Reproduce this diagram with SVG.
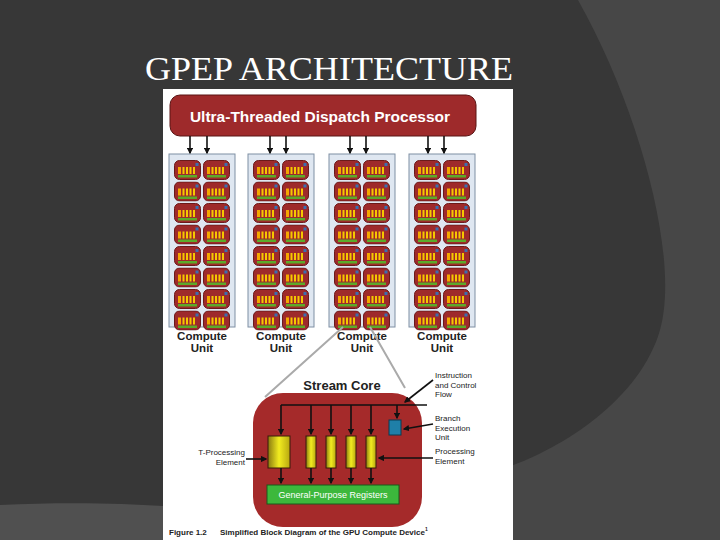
<svg xmlns="http://www.w3.org/2000/svg" width="720" height="540" viewBox="0 0 720 540">
<defs>
<style>
.cu{fill:#dfe7f1;stroke:#7f8fa3;stroke-width:1}
.lbl{font-family:"Liberation Sans",Arial,sans-serif;font-weight:bold;font-size:11.5px;fill:#222;text-anchor:middle}
.sm{font-family:"Liberation Sans",Arial,sans-serif;font-size:8px;fill:#222}
.ar{stroke:#111;stroke-width:1.6;fill:none;marker-end:url(#ah)}
</style>
<marker id="ah" viewBox="0 0 10 10" refX="8" refY="5" markerWidth="4" markerHeight="4" orient="auto"><path d="M0,0L10,5L0,10z" fill="#111"/></marker>
<linearGradient id="pe" x1="0" x2="1"><stop offset="0" stop-color="#8a7a10"/><stop offset="0.5" stop-color="#f2ec20"/><stop offset="1" stop-color="#b8a810"/></linearGradient>
<symbol id="cell" viewBox="0 0 27 20" width="27" height="20">
<rect x="0.5" y="0.5" width="26" height="19" rx="5" fill="#9e2a2b" stroke="#6a1a1a"/>
<rect x="4" y="7" width="3" height="7" fill="#f5a800"/>
<rect x="8.5" y="7" width="2" height="7" fill="#f5c800"/>
<rect x="12" y="7" width="2" height="7" fill="#f5c800"/>
<rect x="15.5" y="7" width="2" height="7" fill="#f5c800"/>
<rect x="19" y="7" width="2" height="7" fill="#f5c800"/>
<rect x="21.5" y="3" width="3" height="3" fill="#3a6fb0"/>
<rect x="4" y="15" width="19" height="2.5" fill="#5caa2a"/>
</symbol>
<g id="cucol">
<rect class="cu" x="0" y="0" width="66" height="173"/>
<use href="#cell" x="5" y="6"/><use href="#cell" x="34" y="6"/>
<use href="#cell" x="5" y="27.5"/><use href="#cell" x="34" y="27.5"/>
<use href="#cell" x="5" y="49"/><use href="#cell" x="34" y="49"/>
<use href="#cell" x="5" y="70.5"/><use href="#cell" x="34" y="70.5"/>
<use href="#cell" x="5" y="92"/><use href="#cell" x="34" y="92"/>
<use href="#cell" x="5" y="113.5"/><use href="#cell" x="34" y="113.5"/>
<use href="#cell" x="5" y="135"/><use href="#cell" x="34" y="135"/>
<use href="#cell" x="5" y="156.5"/><use href="#cell" x="34" y="156.5"/>
</g>
</defs>
<rect width="720" height="540" fill="#373737"/>
<path d="M578,0 C640,110 680,260 660,330 C640,400 560,450 505,468 L505,540 L720,540 L720,0 Z" fill="#474747"/>
<path d="M0,505 C60,502 120,503 163,506 L163,540 L0,540 Z" fill="#505050"/>
<text x="145" y="80" font-family="Liberation Serif,serif" font-size="33" fill="#fff" textLength="368" lengthAdjust="spacingAndGlyphs">GPEP ARCHITECTURE</text>
<rect x="163" y="89" width="350" height="451" fill="#fff"/>
<g id="dispatch">
<rect x="170" y="95" width="306" height="41" rx="10" fill="#9e2a2b" stroke="#5a1515"/>
<text x="320" y="122" font-family="Liberation Sans,Arial,sans-serif" font-weight="bold" font-size="15.5" fill="#fff" text-anchor="middle">Ultra-Threaded Dispatch Processor</text>
</g>
<g id="cu1"><use href="#cucol" x="169" y="154"/><text class="lbl" x="202" y="340">Compute</text><text class="lbl" x="202" y="352">Unit</text></g>
<g id="cu2"><use href="#cucol" x="248" y="154"/><text class="lbl" x="281" y="340">Compute</text><text class="lbl" x="281" y="352">Unit</text></g>
<g id="cu3"><use href="#cucol" x="329" y="154"/><text class="lbl" x="362" y="340">Compute</text><text class="lbl" x="362" y="352">Unit</text></g>
<g id="cu4"><use href="#cucol" x="409" y="154"/><text class="lbl" x="442" y="340">Compute</text><text class="lbl" x="442" y="352">Unit</text></g>
<g id="streamcore">
<text x="342" y="390" font-family="Liberation Sans,Arial,sans-serif" font-weight="bold" font-size="13" fill="#222" text-anchor="middle">Stream Core</text>
<rect x="253" y="393" width="169" height="134" rx="30" fill="#a52a2a"/>
<rect x="268" y="436" width="22" height="32" fill="url(#pe)" stroke="#3a1a0a"/>
<rect x="306" y="436" width="10" height="32" fill="url(#pe)" stroke="#3a1a0a"/>
<rect x="326" y="436" width="10" height="32" fill="url(#pe)" stroke="#3a1a0a"/>
<rect x="346" y="436" width="10" height="32" fill="url(#pe)" stroke="#3a1a0a"/>
<rect x="366" y="436" width="10" height="32" fill="url(#pe)" stroke="#3a1a0a"/>
<rect x="389" y="420" width="12" height="15" fill="#1f7fa8" stroke="#0a3a50"/>
<rect x="267" y="485" width="132" height="19" fill="#3cb83c" stroke="#1a5a1a"/>
<text x="333" y="498" font-family="Liberation Sans,Arial,sans-serif" font-size="9" fill="#fff" text-anchor="middle">General-Purpose Registers</text>
</g>
<g id="connectors">
<path class="ar" d="M190,136V153"/><path class="ar" d="M207,136V153"/><path class="ar" d="M270,136V153"/><path class="ar" d="M286,136V153"/>
<path class="ar" d="M350,136V153"/><path class="ar" d="M366,136V153"/><path class="ar" d="M428,136V153"/><path class="ar" d="M444,136V153"/>
<path d="M343,327L265,397M370,327L405,388" stroke="#aaa" stroke-width="2" fill="none"/>
<path d="M281,405H427" stroke="#111" stroke-width="1.6"/>
<path class="ar" d="M281,405V434"/><path class="ar" d="M311,405V434"/><path class="ar" d="M331,405V434"/><path class="ar" d="M351,405V434"/><path class="ar" d="M371,405V434"/><path class="ar" d="M397,405V418"/>
<path class="ar" d="M281,468V483"/><path class="ar" d="M311,468V483"/><path class="ar" d="M331,468V483"/><path class="ar" d="M351,468V483"/><path class="ar" d="M371,468V483"/>
<path class="ar" d="M433,380L405,402"/><path class="ar" d="M433,424L404,429"/><path class="ar" d="M246,459L266,459"/><path class="ar" d="M433,458L379,458"/>
</g>
<g id="labels">
<text class="sm" x="435" y="378">Instruction</text><text class="sm" x="435" y="388">and Control</text><text class="sm" x="435" y="397">Flow</text>
<text class="sm" x="435" y="421">Branch</text><text class="sm" x="435" y="431">Execution</text><text class="sm" x="435" y="440">Unit</text>
<text class="sm" x="245" y="455" text-anchor="end">T-Processing</text><text class="sm" x="245" y="465" text-anchor="end">Element</text>
<text class="sm" x="435" y="454">Processing</text><text class="sm" x="435" y="464">Element</text>
<text class="sm" x="169" y="535" font-weight="bold">Figure 1.2</text>
<text class="sm" x="220" y="535" font-weight="bold">Simplified Block Diagram of the GPU Compute Device<tspan font-size="5" dy="-4">1</tspan></text>
</g>
</svg>
